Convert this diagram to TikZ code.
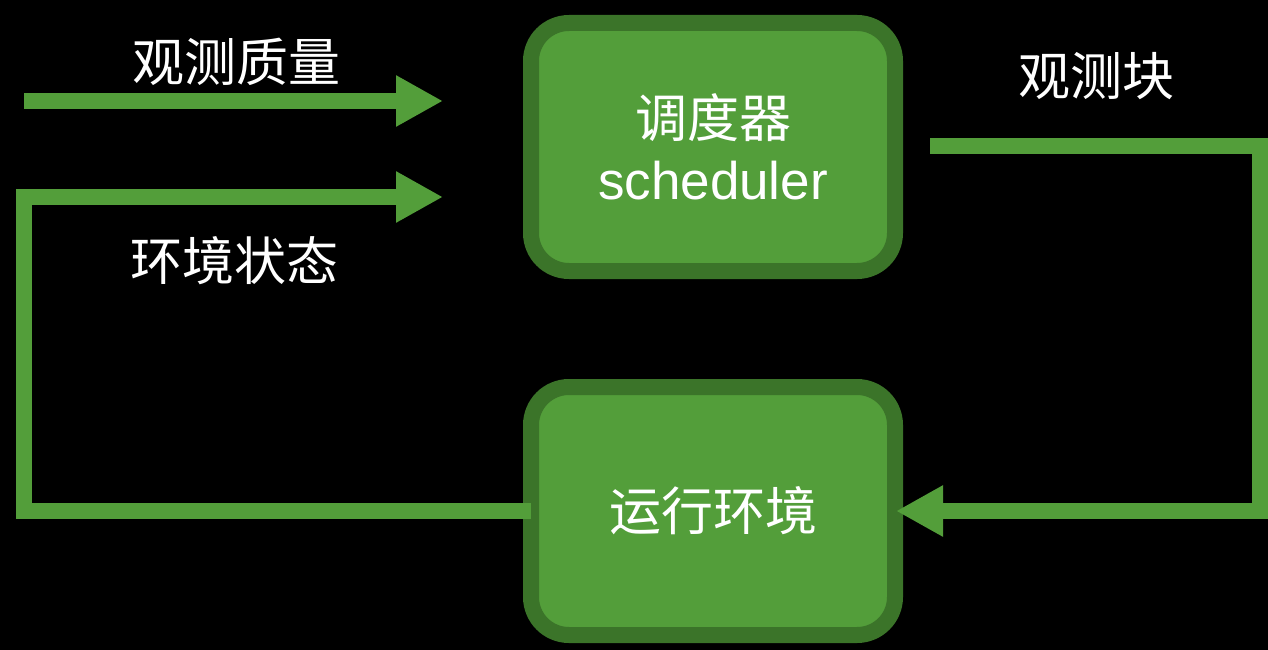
\documentclass[tikz,border=0pt]{standalone}
\usepackage{fontspec}
\setmainfont{Liberation Sans}
\newfontfamily\cjk{Noto Sans CJK SC}
\usetikzlibrary{arrows.meta}
\definecolor{gfill}{HTML}{539E3A}
\definecolor{gborder}{HTML}{3B7429}
\begin{document}
\begin{tikzpicture}[x=1pt,y=-1pt,
  box/.style={draw=gborder, fill=gfill, line width=16pt, rounded corners=38pt,
    minimum width=364pt, minimum height=248pt, inner sep=0pt, text=white, align=center,
    font=\fontsize{53}{62}\selectfont},
  conn/.style={draw=gfill, line width=16pt},
  tipped/.style={-{Triangle[length=47pt,width=48pt]}},
  lbl/.style={text=white, font=\cjk\fontsize{52}{62}\selectfont, inner sep=0pt}]
\fill[black] (0,0) rectangle (1268,650);
\useasboundingbox (0,0) rectangle (1268,650);

% coordinates for connector ends
\coordinate (q0) at (24,101);
\coordinate (q1) at (443,101);
\coordinate (s0) at (24,511);
\coordinate (s1) at (24,197);
\coordinate (s2) at (443,197);
\coordinate (r0) at (930,146);
\coordinate (r1) at (1260,146);
\coordinate (r2) at (1260,511);

\node[box] (sched) at (713,147) {{\cjk\fontsize{52}{62}\selectfont 调度器}\\scheduler};
\node[box] (env) at (713,511) {{\cjk\fontsize{52}{62}\selectfont 运行环境}};

\draw[conn, tipped] (q0) -- (q1);
\draw[conn, tipped] ([xshift=8pt]env.west) -- (s0) -- (s1) -- (s2);
\draw[conn, tipped] (r0) -- (r1) -- (r2) -- ([xshift=-7pt]env.east);

\node[lbl] (lq) at (236,62) {观测质量};
\node[lbl] (ls) at (234,261) {环境状态};
\node[lbl] (lb) at (1096,76) {观测块};
\end{tikzpicture}
\end{document}
